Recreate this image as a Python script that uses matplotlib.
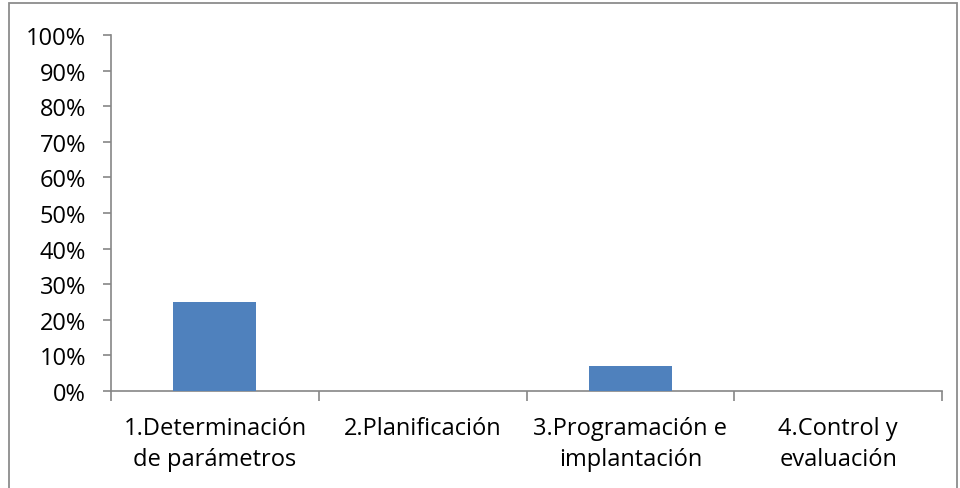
import matplotlib.pyplot as plt
from matplotlib.patches import Rectangle
from matplotlib.ticker import FixedLocator, PercentFormatter

categories = ["1.Determinación\nde parámetros", "2.Planificación",
              "3.Programación e\nimplantación", "4.Control y\nevaluación"]
values = [25, 0, 7, 0]
yticks = list(range(0, 101, 10))

plt.rcParams['font.family'] = ['Open Sans', 'DejaVu Sans']

fig = plt.figure(figsize=(9.6, 4.89), dpi=100)
ax = fig.add_axes([111 / 960, 1 - 392 / 489, (942 - 111) / 960, (392 - 36) / 489])

# outer chart frame
fig.patches.append(Rectangle((9 / 960, -0.01), 948 / 960, 1 - 4 / 489 + 0.01,
                             transform=fig.transFigure, fill=False,
                             edgecolor="#8c8c8c", linewidth=1.3))

x = list(range(len(categories)))
ax.bar(x, values, width=0.4, color="#4f81bd", zorder=3)

ax.set_xlim(-0.5, len(categories) - 0.5)
ax.set_ylim(0, 100)
ax.set_yticks(yticks)
ax.yaxis.set_major_formatter(PercentFormatter(decimals=0))
ax.set_xticks(x)
ax.set_xticklabels(categories, linespacing=1.4)
ax.xaxis.set_minor_locator(FixedLocator([i - 0.5 for i in range(len(categories) + 1)]))

for s in ["top", "right"]:
    ax.spines[s].set_visible(False)
for s in ["left", "bottom"]:
    ax.spines[s].set_color("#868686")
    ax.spines[s].set_linewidth(1.2)

ax.tick_params(axis="y", length=6, width=1.2, color="#868686", labelsize=17, pad=12)
ax.tick_params(axis="x", which="major", length=0, labelsize=17, pad=18)
ax.tick_params(axis="x", which="minor", length=7, width=1.2, color="#868686")

fig.savefig("out.png", dpi=100)
